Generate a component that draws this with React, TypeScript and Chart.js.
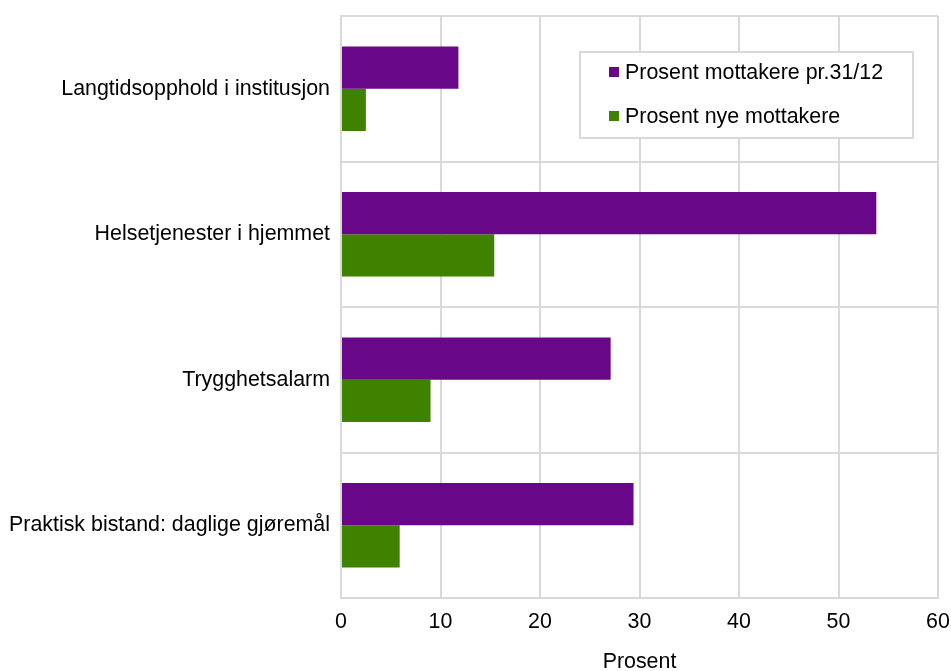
import React, { useEffect, useRef } from "react";
import { Chart, registerables } from "chart.js";

Chart.register(...registerables);

const categories = [
  "Langtidsopphold i institusjon",
  "Helsetjenester i hjemmet",
  "Trygghetsalarm",
  "Praktisk bistand: daglige gjøremål",
];
const seriesNames = ["Prosent mottakere pr.31/12", "Prosent nye mottakere"];
const mottakere = [11.8, 53.8, 27.1, 29.4];
const nyeMottakere = [2.5, 15.4, 9.0, 5.9];
const colors = ["#680787", "#3f8200"];
const xTitle = "Prosent";
const FONT = "'Liberation Sans', Arial, sans-serif";
const FS = 21.4;

const legendPlugin = {
  id: "boxLegend",
  afterDraw(chart: any) {
    const { ctx, chartArea } = chart;
    const w = 333;
    const h = 86;
    const x0 = chartArea.right - 25 - w;
    const y0 = chartArea.top + 36;
    ctx.save();
    ctx.fillStyle = "#ffffff";
    ctx.fillRect(x0, y0, w, h);
    ctx.strokeStyle = "#d9d9d9";
    ctx.lineWidth = 2;
    ctx.strokeRect(x0, y0, w, h);
    ctx.font = `${FS}px ${FONT}`;
    ctx.textBaseline = "middle";
    ctx.textAlign = "left";
    seriesNames.forEach((name, i) => {
      const cy = y0 + 20 + i * 44;
      ctx.fillStyle = colors[i];
      ctx.fillRect(x0 + 29, cy - 5, 10, 10);
      ctx.fillStyle = "#000000";
      ctx.fillText(name, x0 + 45, cy + 1);
    });
    ctx.restore();
  },
};

export default function App() {
  const ref = useRef<HTMLCanvasElement>(null);
  useEffect(() => {
    const chart = new Chart(ref.current!, {
      type: "bar",
      data: {
        labels: categories,
        datasets: [
          {
            label: seriesNames[0],
            data: mottakere,
            backgroundColor: colors[0],
            categoryPercentage: 0.58,
            barPercentage: 1.0,
          },
          {
            label: seriesNames[1],
            data: nyeMottakere,
            backgroundColor: colors[1],
            categoryPercentage: 0.58,
            barPercentage: 1.0,
          },
        ],
      },
      options: {
        indexAxis: "y",
        animation: false,
        responsive: false,
        maintainAspectRatio: false,
        layout: { padding: { top: 16, right: 13, left: 0, bottom: 0 } },
        plugins: {
          legend: { display: false },
          tooltip: { enabled: false },
        },
        scales: {
          x: {
            min: 0,
            max: 60,
            ticks: {
              stepSize: 10,
              color: "#000",
              font: { family: FONT, size: FS },
              padding: 11,
            },
            grid: { color: "#d9d9d9", lineWidth: 2, drawTicks: false },
            border: { color: "#d9d9d9", width: 2 },
            title: {
              display: true,
              text: xTitle,
              color: "#000",
              font: { family: FONT, size: FS, lineHeight: 0.85 },
              padding: { top: 16, bottom: 0 },
            },
            afterFit(scale: any) {
              scale.height = 73;
              scale.paddingRight = 0;
              scale.paddingLeft = 0;
            },
          },
          y: {
            ticks: {
              color: "#000",
              font: { family: FONT, size: FS },
              padding: 11,
            },
            grid: { color: "#d9d9d9", lineWidth: 2, drawTicks: false, offset: true },
            border: { color: "#d9d9d9", width: 2 },
            afterFit(scale: any) {
              scale.width = 341;
              scale.paddingTop = 0;
              scale.paddingBottom = 0;
            },
          },
        },
      },
      plugins: [legendPlugin],
    });
    return () => chart.destroy();
  }, []);
  return (
    <div style={{ position: "fixed", left: 0, top: 0, width: 951, height: 671, background: "#fff" }}>
      <canvas ref={ref} width={951} height={671} />
    </div>
  );
}
